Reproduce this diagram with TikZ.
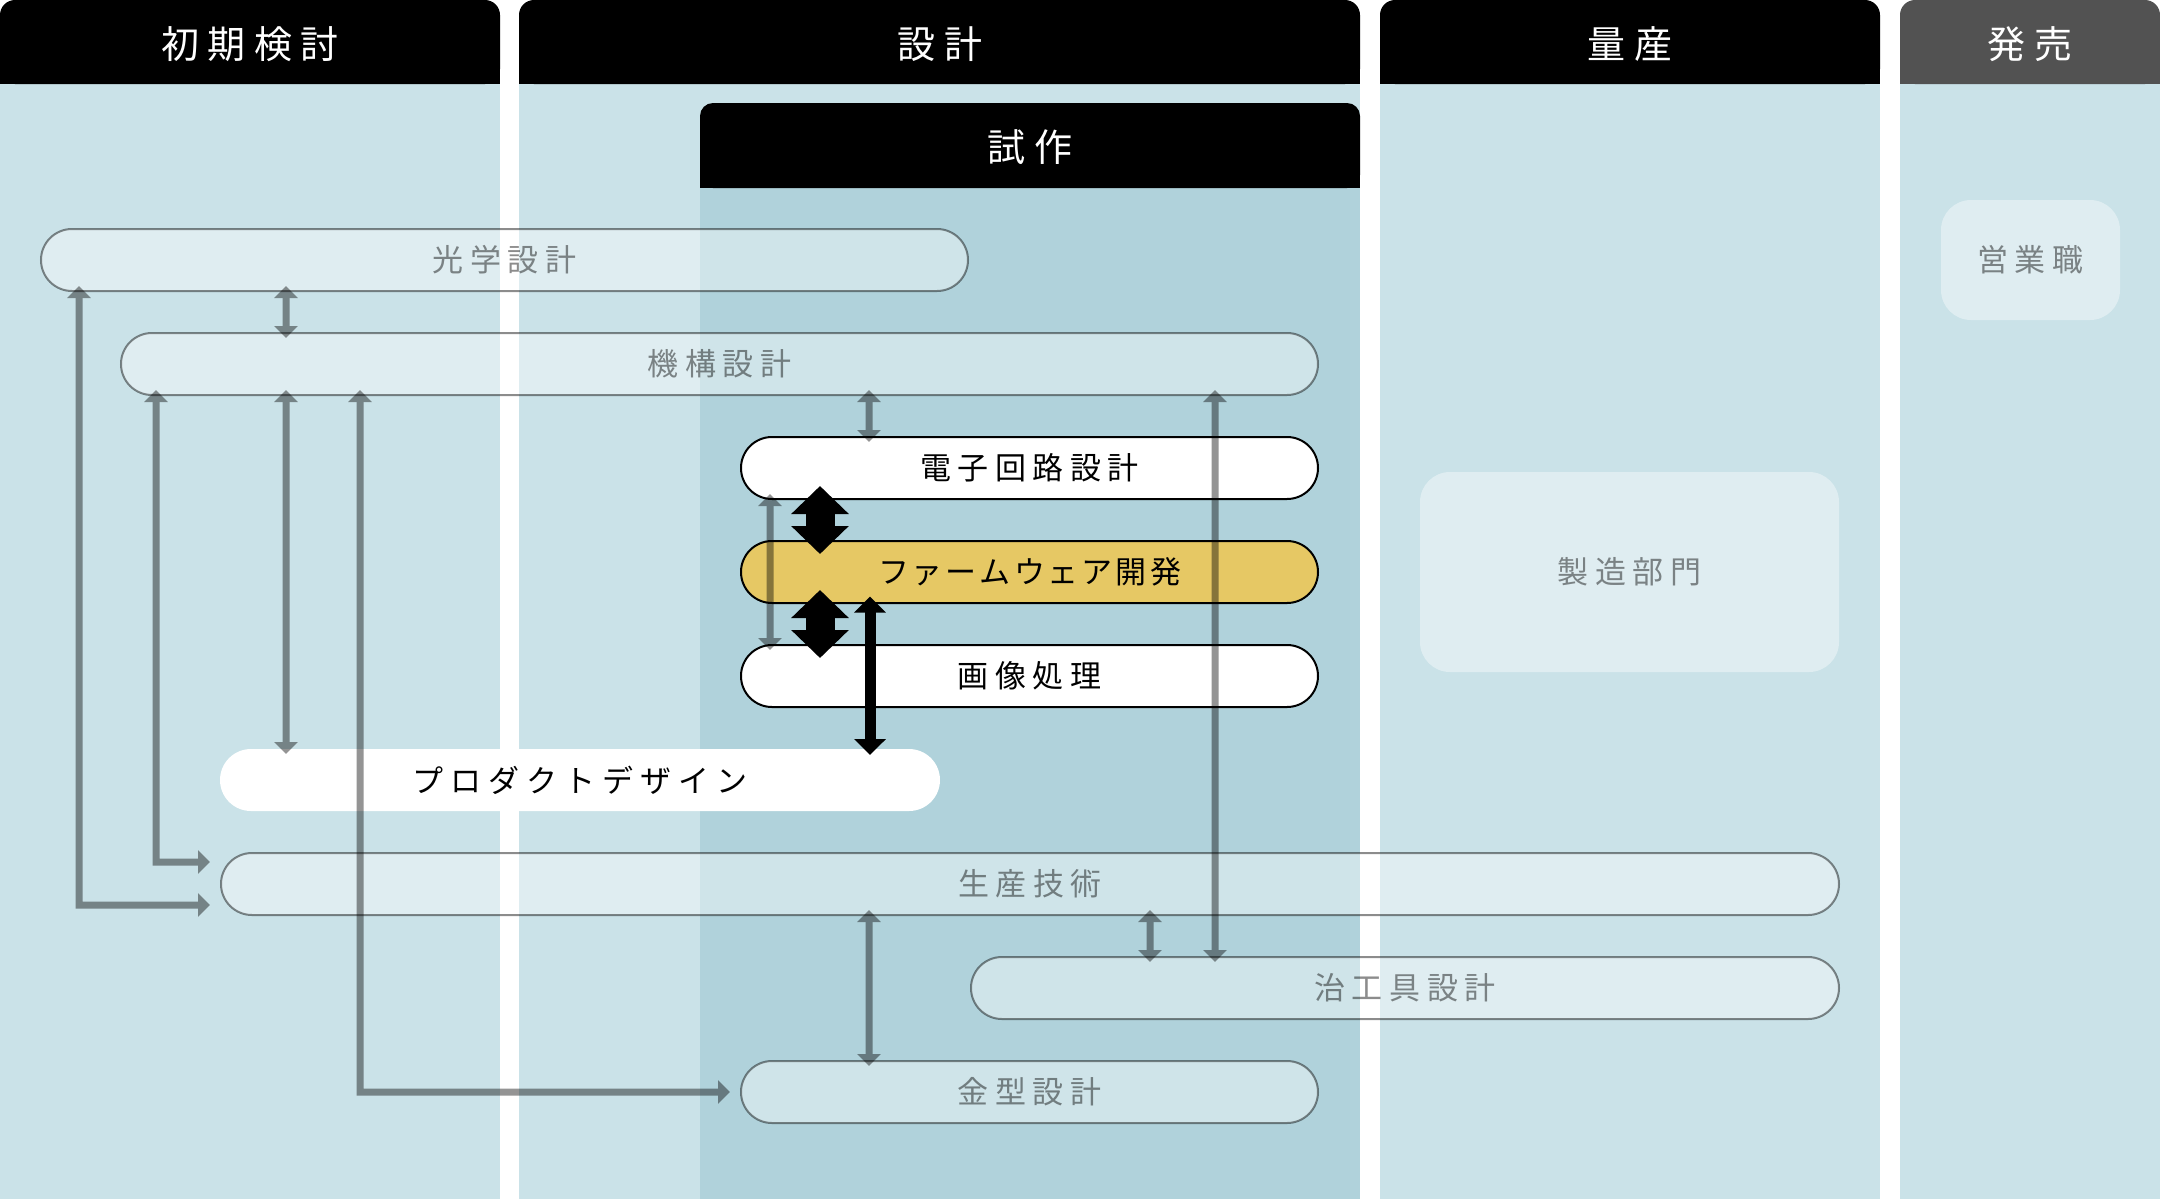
\documentclass[tikz,border=0pt]{standalone}
\usepackage{fontspec}
\newfontfamily\jp{Noto Sans CJK JP}
\usetikzlibrary{arrows.meta,calc}
\definecolor{bgA}{RGB}{202,226,232}
\definecolor{bgB}{RGB}{176,210,219}
\definecolor{gold}{RGB}{230,200,100}
\definecolor{hdgrey}{RGB}{82,82,82}
\newcommand\spacedtext[2]{\def\lsamt{#1}\spacedloop#2\relax}
\def\spacedloop#1{\ifx#1\relax\unskip\else#1\hskip\lsamt\relax\expandafter\spacedloop\fi}
\tikzset{
  pillbase/.style={shape=rectangle, rounded corners=15.5pt, minimum height=31pt,
    inner sep=0pt, outer sep=0pt, line width=1pt,
    font=\jp\fontsize{15.5pt}{18pt}\selectfont},
  gpill/.style={pillbase, draw=black, draw opacity=0.45, fill=white, fill opacity=0.4, text opacity=0.45},
  kpill/.style={pillbase, draw=black, fill=white},
  fpill/.style={pillbase, draw=black, fill=gold},
  ppill/.style={pillbase, fill=white},
  softbox/.style={shape=rectangle, rounded corners=15pt, inner sep=0pt, outer sep=0pt,
    fill=white, fill opacity=0.4, text opacity=0.45,
    font=\jp\fontsize{15.5pt}{18pt}\selectfont},
  hdtext/.style={text=white, inner sep=0pt, font=\jp\fontsize{19pt}{22pt}\selectfont},
  garrow/.style={line width=3.5pt,
    arrows={Triangle[width=11.5pt,length=6pt]-Triangle[width=11.5pt,length=6pt]},
    shorten <=-2.5pt, shorten >=-2.5pt},
  gelbow/.style={garrow, shorten >=0pt},
  karrow/.style={line width=5.5pt,
    arrows={Triangle[width=15.5pt,length=8pt]-Triangle[width=15.5pt,length=8pt]},
    shorten <=-3.2pt, shorten >=-3pt},
  blockarrow/.style={line width=14.5pt,
    arrows={Triangle[width=28pt,length=14pt]-Triangle[width=28pt,length=14pt]},
    shorten <=-6.5pt, shorten >=-6.5pt},
}
\begin{document}
\begin{tikzpicture}[x=0.5pt,y=-0.5pt]
\useasboundingbox (0,0) rectangle (2160,1201);
\fill[white] (0,0) rectangle (2160,1201);
% column bodies
\fill[bgA] (0,84) rectangle (500,1199);
\fill[bgA] (519,84) rectangle (1360,1199);
\fill[bgA] (1380,84) rectangle (1880,1199);
\fill[bgA] (1900,84) rectangle (2160,1199);
\fill[bgB] (700,188) rectangle (1360,1199);
% headers
\fill[black, rounded corners=7.5pt] (0,0) rectangle (500,84);
\fill[black] (0,40) rectangle (500,84);
\fill[black, rounded corners=7.5pt] (519,0) rectangle (1360,84);
\fill[black] (519,40) rectangle (1360,84);
\fill[black, rounded corners=7.5pt] (1380,0) rectangle (1880,84);
\fill[black] (1380,40) rectangle (1880,84);
\fill[hdgrey, rounded corners=7.5pt] (1900,0) rectangle (2160,84);
\fill[hdgrey] (1900,40) rectangle (2160,84);
\fill[black, rounded corners=6.5pt] (700,103) rectangle (1360,188);
\fill[black] (700,150) rectangle (1360,188);
\node[hdtext] (h1) at (250,44) {\spacedtext{4.25pt}{初期検討}};
\node[hdtext] (h2) at (940,44) {\spacedtext{4.25pt}{設計}};
\node[hdtext] (h3) at (1630,44) {\spacedtext{4.25pt}{量産}};
\node[hdtext] (h4) at (2030,44) {\spacedtext{4.25pt}{発売}};
\node[hdtext] (h5) at (1030,147) {\spacedtext{4.25pt}{試作}};
% pills
\node[gpill, minimum width=463.5pt] (optical) at (504.5,260) {\spacedtext{3.25pt}{光学設計}};
\node[gpill, minimum width=598.5pt] (mech) at (719.5,364) {\spacedtext{3.25pt}{機構設計}};
\node[kpill, minimum width=288.5pt] (elec) at (1029.5,468) {\spacedtext{3.25pt}{電子回路設計}};
\node[fpill, minimum width=288.5pt] (firm) at (1029.5,572) {\spacedtext{1.5pt}{ファームウェア開発}};
\node[kpill, minimum width=288.5pt] (image) at (1029.5,676) {\spacedtext{3.25pt}{画像処理}};
\node[ppill, minimum width=360pt] (prod) at (580,780) {\spacedtext{3.5pt}{プロダクトデザイン}};
\node[gpill, minimum width=809pt] (prodtech) at (1030,884) {\spacedtext{3.25pt}{生産技術}};
\node[gpill, minimum width=434pt] (jig) at (1405,988) {\spacedtext{3.25pt}{治工具設計}};
\node[gpill, minimum width=288.5pt] (mold) at (1029.5,1092) {\spacedtext{3.25pt}{金型設計}};
\node[softbox, minimum width=209.5pt, minimum height=100pt] (factory) at (1629.5,572) {\spacedtext{3.25pt}{製造部門}};
\node[softbox, minimum width=89.5pt, minimum height=60pt] (sales) at (2030.5,260) {\spacedtext{3.25pt}{営業職}};
% x positions of connectors
\coordinate (xa) at (79,0);
\coordinate (xb) at (156,0);
\coordinate (xc) at (286,0);
\coordinate (xd) at (360,0);
\coordinate (xe) at (770,0);
\coordinate (xf) at (820,0);
\coordinate (xg) at (869,0);
\coordinate (xh) at (1150,0);
\coordinate (xi) at (1215,0);
\coordinate (xj) at (870,0);
\coordinate (endA) at ($(prodtech.west)+(-11,21)$);
\coordinate (endB) at ($(prodtech.west)+(-11,-22)$);
\coordinate (endC) at ($(mold.west)+(-11,0)$);
% grey connectors
\begin{scope}[transparency group, opacity=0.42]
\draw[gelbow] (xa |- optical.south) |- (endA);
\draw[gelbow] (xb |- mech.south) |- (endB);
\draw[gelbow] (xd |- mech.south) |- (endC);
\draw[garrow] (xc |- optical.south) -- (xc |- mech.north);
\draw[garrow] (xc |- mech.south) -- (xc |- prod.north);
\draw[garrow] (xg |- mech.south) -- (xg |- elec.north);
\draw[garrow] (xi |- mech.south) -- (xi |- jig.north);
\draw[garrow] (xe |- elec.south) -- (xe |- image.north);
\draw[garrow] (xg |- prodtech.south) -- (xg |- mold.north);
\draw[garrow] (xh |- prodtech.south) -- (xh |- jig.north);
\end{scope}
% black connectors
\draw[blockarrow] (xf |- elec.south) -- (xf |- firm.north);
\draw[blockarrow] (xf |- firm.south) -- (xf |- image.north);
\draw[karrow] (xj |- firm.south) -- (xj |- prod.north);
\end{tikzpicture}
\end{document}
